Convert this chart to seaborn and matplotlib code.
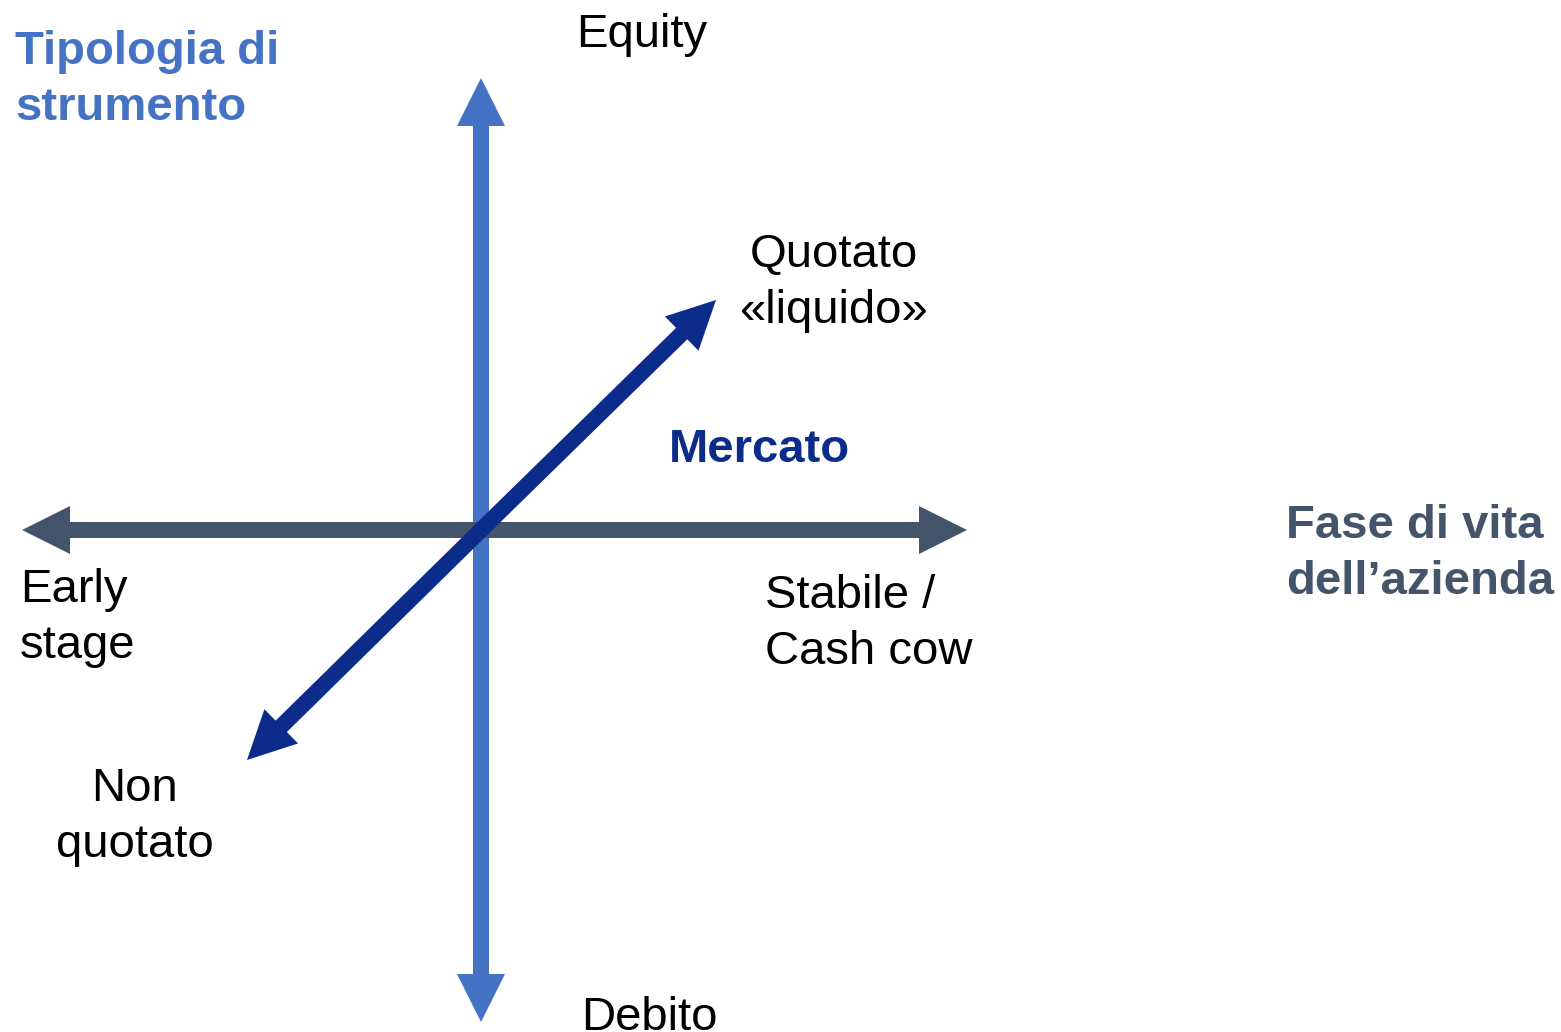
import matplotlib
matplotlib.use("Agg")
import matplotlib.pyplot as plt
from matplotlib.patches import FancyArrow
import seaborn as sns

# --- content -------------------------------------------------------------
axis_titles = ["Tipologia di\nstrumento", "Fase di vita\ndell\u2019azienda", "Mercato"]
low_poles = ["Debito", "Early\nstage", "Non\nquotato"]
high_poles = ["Equity", "Stabile /\nCash cow", "Quotato\n\u00abliquido\u00bb"]

# arrow end points (canvas pixel space, origin top-left)
centre = (481, 530)
vertical_ends = [(481, 78), (481, 1022)]
horizontal_ends = [(22, 530), (967, 530)]
diagonal_ends = [(716, 300), (247, 760)]

colors = {"vertical": "#4472C4", "horizontal": "#44546A", "diagonal": "#0B2C8A"}

# --- drawing -------------------------------------------------------------
sns.set_theme(style="white")
plt.rcParams["font.family"] = ["Liberation Sans", "DejaVu Sans"]

W, H = 1561, 1032
fig = plt.figure(figsize=(W / 100, H / 100), dpi=100)
ax = fig.add_axes([0, 0, 1, 1])
ax.set_xlim(0, W)
ax.set_ylim(H, 0)
ax.set_axis_off()

def double_arrow(ends, color, z):
    for (ex, ey) in ends:
        ax.add_patch(FancyArrow(centre[0], centre[1], ex - centre[0], ey - centre[1],
                                width=16, head_width=48, head_length=48,
                                length_includes_head=True, color=color, lw=0,
                                zorder=z))

double_arrow(vertical_ends, colors["vertical"], 2)
double_arrow(horizontal_ends, colors["horizontal"], 3)
double_arrow(diagonal_ends, colors["diagonal"], 4)

fs = 34
ls = 1.36
# axis titles (y = baseline of last line)
ax.text(15, 120, axis_titles[0], color=colors["vertical"], fontsize=fs,
        fontweight="bold", ha="left", va="baseline", linespacing=ls)
ax.text(1286, 594, axis_titles[1], color=colors["horizontal"], fontsize=fs,
        fontweight="bold", ha="left", va="baseline", linespacing=ls)
ax.text(669, 462, axis_titles[2], color=colors["diagonal"], fontsize=fs,
        fontweight="bold", ha="left", va="baseline", linespacing=ls)

# poles
ax.text(576, 47, high_poles[0], color="black", fontsize=fs, ha="left",
        va="baseline", linespacing=ls)
ax.text(581, 1030, low_poles[0], color="black", fontsize=fs, ha="left",
        va="baseline", linespacing=ls)
ax.text(20, 658, low_poles[1], color="black", fontsize=fs, ha="left",
        va="baseline", linespacing=ls)
ax.text(765, 664, high_poles[1], color="black", fontsize=fs, ha="left",
        va="baseline", linespacing=ls)
ax.text(834, 323, high_poles[2], color="black", fontsize=fs, ha="center",
        va="baseline", linespacing=ls, multialignment="center")
ax.text(135, 857, low_poles[2], color="black", fontsize=fs, ha="center",
        va="baseline", linespacing=ls, multialignment="center")

fig.savefig("out.png", dpi=100, facecolor="white")
